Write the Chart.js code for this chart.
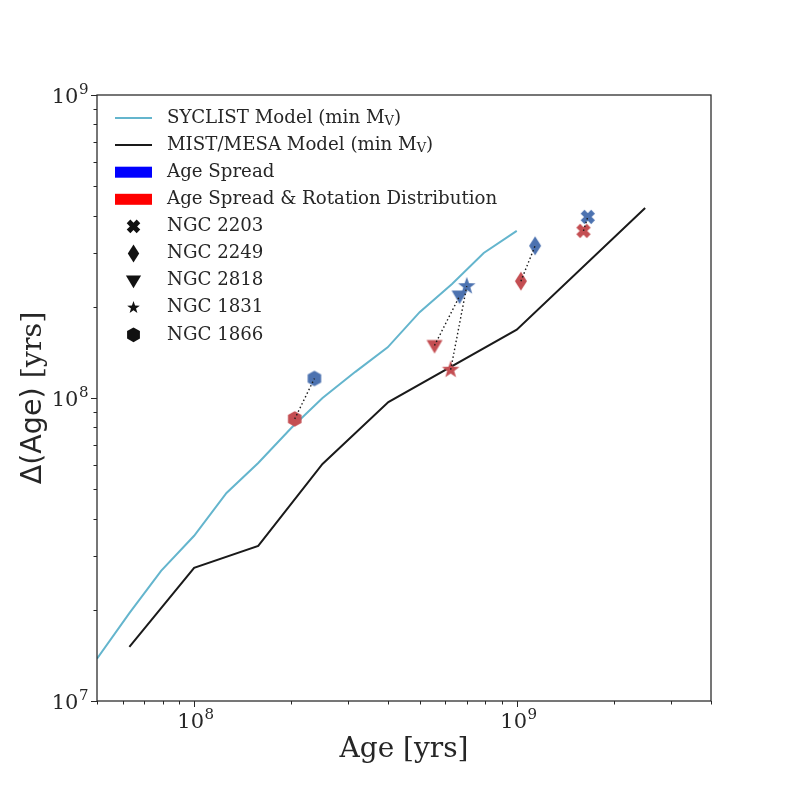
<!DOCTYPE html>
<html>
<head>
<meta charset="utf-8">
<script src="https://cdn.jsdelivr.net/npm/chart.js@4"></script>
<style>
  html, body { margin: 0; background: #fff; }
  #wrap { width: 789px; height: 789px; }
</style>
</head>
<body>
<div id="wrap"><canvas id="chart" width="789" height="789"></canvas></div>
<script>
// model curves
const sycAge = [5.0e7, 6.3e7, 7.9e7, 1.0e8, 1.26e8, 1.58e8, 2.0e8, 2.5e8, 3.16e8, 3.98e8, 5.0e8, 6.3e8, 7.9e8, 1.0e9];
const sycSpread = [1.38e7, 1.95e7, 2.69e7, 3.51e7, 4.86e7, 6.10e7, 7.96e7, 1.0e8, 1.22e8, 1.47e8, 1.92e8, 2.38e8, 3.01e8, 3.56e8];
const mistAge = [6.3e7, 1.0e8, 1.58e8, 2.5e8, 4.0e8, 1.0e9, 2.5e9];
const mistSpread = [1.51e7, 2.75e7, 3.25e7, 6.06e7, 9.7e7, 1.68e8, 4.24e8];

// clusters
const clusters = ['NGC 2203', 'NGC 2249', 'NGC 2818', 'NGC 1831', 'NGC 1866'];
const shapes = ['x', 'd', 'v', '*', 'h'];
const blueAge = [1.66e9, 1.14e9, 6.65e8, 7.0e8, 2.36e8];
const blueSpread = [3.96e8, 3.18e8, 2.17e8, 2.34e8, 1.16e8];
const redAge = [1.61e9, 1.03e9, 5.56e8, 6.24e8, 2.05e8];
const redSpread = [3.56e8, 2.43e8, 1.49e8, 1.24e8, 8.53e7];

// ticks
const xTicks = [5e7, 6e7, 7e7, 8e7, 9e7, 1e8, 2e8, 3e8, 4e8, 5e8, 6e8, 7e8, 8e8, 9e8, 1e9, 2e9, 3e9, 4e9];
const yTicks = [1e7, 2e7, 3e7, 4e7, 5e7, 6e7, 7e7, 8e7, 9e7, 1e8, 2e8, 3e8, 4e8, 5e8, 6e8, 7e8, 8e8, 9e8, 1e9];

const BLUE = '#4c72b0';
const RED = '#c44e52';
const CYAN = '#64b5cd';
const INK = '#262626';
const SERIF = "'DejaVu Serif', serif";
const SANS = "'DejaVu Sans', sans-serif";

function isDecade(v) {
  const e = Math.log10(v);
  return Math.abs(e - Math.round(e)) < 1e-9;
}

function markerPath(ctx, shape, k) {
  let pts = [];
  if (shape === 'x') {
    const a = 7.4 * k, w = 2.7 * k;
    const plus = [[-w,-a],[w,-a],[w,-w],[a,-w],[a,w],[w,w],[w,a],[-w,a],[-w,w],[-a,w],[-a,-w],[-w,-w]];
    const c = Math.SQRT1_2;
    pts = plus.map(p => [(p[0] - p[1]) * c, (p[0] + p[1]) * c]);
  } else if (shape === 'd') {
    pts = [[0,-9.5*k],[6*k,0],[0,9.5*k],[-6*k,0]];
  } else if (shape === 'v') {
    pts = [[-8*k,-5.5*k],[8*k,-5.5*k],[0,8*k]];
  } else if (shape === '*') {
    for (let i = 0; i < 10; i++) {
      const r = (i % 2 === 0 ? 9.2 : 3.7) * k;
      const ang = -Math.PI / 2 + i * Math.PI / 5;
      pts.push([r * Math.cos(ang), r * Math.sin(ang)]);
    }
  } else if (shape === 'h') {
    for (let i = 0; i < 6; i++) {
      const ang = -Math.PI / 2 + i * Math.PI / 3;
      pts.push([7.8 * k * Math.cos(ang), 7.8 * k * Math.sin(ang)]);
    }
  }
  ctx.beginPath();
  pts.forEach((p, i) => i ? ctx.lineTo(p[0], p[1]) : ctx.moveTo(p[0], p[1]));
  ctx.closePath();
}

function makeMarker(shape, color, k) {
  const c = document.createElement('canvas');
  c.width = 26; c.height = 26;
  const ctx = c.getContext('2d');
  ctx.translate(13, 13);
  ctx.fillStyle = color;
  markerPath(ctx, shape, k);
  ctx.fill();
  return c;
}

const blueMarks = shapes.map(s => makeMarker(s, BLUE, 1));
const redMarks = shapes.map(s => makeMarker(s, RED, 1));

function pts(xs, ys) {
  return xs.map((x, i) => ({ x: x, y: ys[i] }));
}

// dotted connectors first so they sit on top
const datasets = [];
clusters.forEach((name, i) => {
  datasets.push({
    type: 'line',
    label: name + ' link',
    data: [{ x: redAge[i], y: redSpread[i] }, { x: blueAge[i], y: blueSpread[i] }],
    borderColor: '#1a1a1a',
    borderWidth: 1.4,
    borderDash: [1.5, 2.5],
    pointRadius: 0,
    fill: false
  });
});
datasets.push({
  type: 'scatter',
  label: 'Age Spread',
  data: pts(blueAge, blueSpread),
  pointStyle: ctx => blueMarks[ctx.dataIndex],
  pointRadius: 9
});
datasets.push({
  type: 'scatter',
  label: 'Age Spread & Rotation Distribution',
  data: pts(redAge, redSpread),
  pointStyle: ctx => redMarks[ctx.dataIndex],
  pointRadius: 9
});
datasets.push({
  type: 'line',
  label: 'SYCLIST Model',
  data: pts(sycAge, sycSpread),
  borderColor: CYAN,
  borderWidth: 2,
  pointRadius: 0,
  tension: 0,
  fill: false
});
datasets.push({
  type: 'line',
  label: 'MIST/MESA Model',
  data: pts(mistAge, mistSpread),
  borderColor: '#1a1a1a',
  borderWidth: 2,
  pointRadius: 0,
  tension: 0,
  fill: false
});

// "10" with a raised exponent, anchored by alignment
function drawPow(ctx, v, x, y, align) {
  const e = String(Math.round(Math.log10(v)));
  ctx.font = '21px ' + SERIF;
  const wb = ctx.measureText('10').width;
  ctx.font = '15px ' + SERIF;
  const we = ctx.measureText(e).width;
  let x0 = align === 'center' ? x - (wb + we) / 2 : x - (wb + we);
  ctx.textAlign = 'left';
  ctx.textBaseline = 'alphabetic';
  ctx.font = '21px ' + SERIF;
  ctx.fillText('10', x0, y);
  ctx.font = '15px ' + SERIF;
  ctx.fillText(e, x0 + wb + 0.5, y - 9);
}

const framePlugin = {
  id: 'frame',
  afterDraw(chart) {
    const ctx = chart.ctx;
    const a = chart.chartArea;
    const xs = chart.scales.x, ys = chart.scales.y;
    ctx.save();
    ctx.strokeStyle = INK;
    ctx.lineWidth = 1.25;
    ctx.strokeRect(a.left, a.top, a.right - a.left, a.bottom - a.top);

    ctx.lineWidth = 1;
    ctx.fillStyle = INK;
    xTicks.forEach(v => {
      const px = Math.round(xs.getPixelForValue(v)) + 0.5;
      const len = isDecade(v) ? 6 : 3.5;
      ctx.beginPath(); ctx.moveTo(px, a.bottom); ctx.lineTo(px, a.bottom + len); ctx.stroke();
      if (isDecade(v)) drawPow(ctx, v, px + 1, a.bottom + 27, 'center');
    });
    yTicks.forEach(v => {
      const py = Math.round(ys.getPixelForValue(v)) + 0.5;
      const len = isDecade(v) ? 6 : 3.5;
      ctx.beginPath(); ctx.moveTo(a.left, py); ctx.lineTo(a.left - len, py); ctx.stroke();
      if (isDecade(v)) drawPow(ctx, v, a.left - 9, py + 7, 'right');
    });

    // axis titles
    ctx.fillStyle = INK;
    ctx.textBaseline = 'alphabetic';
    ctx.textAlign = 'center';
    ctx.font = '28px ' + SERIF;
    ctx.fillText('Age [yrs]', (a.left + a.right) / 2, 757);

    ctx.save();
    ctx.translate(41, (a.top + a.bottom) / 2);
    ctx.rotate(-Math.PI / 2);
    ctx.textAlign = 'left';
    ctx.font = '28.5px ' + SANS;
    const p1 = '\u0394(Age)';
    const w1 = ctx.measureText(p1).width;
    ctx.font = '28.5px ' + SERIF;
    const p2 = ' [yrs]';
    const w2 = ctx.measureText(p2).width;
    const x0 = -(w1 + w2) / 2;
    ctx.font = '28.5px ' + SANS;
    ctx.fillText(p1, x0, 0);
    ctx.font = '28.5px ' + SERIF;
    ctx.fillText(p2, x0 + w1, 0);
    ctx.restore();

    // legend
    const hx0 = 115, hx1 = 152, tx = 167, y0 = 118, step = 27.1;
    const LF = '18.2px ' + SERIF;
    ctx.textAlign = 'left';
    ctx.textBaseline = 'middle';
    const drawSubLabel = (y, pre) => {
      ctx.font = LF;
      ctx.fillText(pre, tx, y);
      let x = tx + ctx.measureText(pre).width;
      ctx.font = '13px ' + SERIF;
      ctx.fillText('V', x, y + 4);
      x += ctx.measureText('V').width;
      ctx.font = LF;
      ctx.fillText(')', x, y);
    };
    ctx.lineWidth = 2;
    ctx.strokeStyle = CYAN;
    ctx.beginPath(); ctx.moveTo(hx0, y0); ctx.lineTo(hx1, y0); ctx.stroke();
    drawSubLabel(y0, 'SYCLIST Model (min M');
    ctx.strokeStyle = '#1a1a1a';
    ctx.beginPath(); ctx.moveTo(hx0, y0 + step); ctx.lineTo(hx1, y0 + step); ctx.stroke();
    drawSubLabel(y0 + step, 'MIST/MESA Model (min M');
    ctx.fillStyle = '#0000ff';
    ctx.fillRect(hx0, y0 + 2 * step - 5.5, hx1 - hx0, 11);
    ctx.fillStyle = '#ff0000';
    ctx.fillRect(hx0, y0 + 3 * step - 5.5, hx1 - hx0, 11);
    ctx.fillStyle = INK;
    ctx.font = LF;
    ctx.fillText('Age Spread', tx, y0 + 2 * step);
    ctx.fillText('Age Spread & Rotation Distribution', tx, y0 + 3 * step);
    clusters.forEach((name, i) => {
      const y = y0 + (4 + i) * step;
      ctx.save();
      ctx.translate((hx0 + hx1) / 2, y);
      ctx.fillStyle = '#111';
      markerPath(ctx, shapes[i], shapes[i] === '*' ? 0.72 : 0.95);
      ctx.fill();
      ctx.restore();
      ctx.fillStyle = INK;
      ctx.font = LF;
      ctx.fillText(name, tx, y);
    });
    ctx.restore();
  }
};

new Chart(document.getElementById('chart'), {
  type: 'scatter',
  data: { datasets: datasets },
  options: {
    responsive: false,
    animation: false,
    layout: { padding: { top: 95, right: 78, left: 0, bottom: 0 } },
    plugins: { legend: { display: false }, tooltip: { enabled: false } },
    scales: {
      x: {
        type: 'logarithmic',
        min: 5e7,
        max: 4e9,
        grid: { display: false },
        border: { display: false },
        afterBuildTicks: s => { s.ticks = xTicks.map(v => ({ value: v })); },
        afterFit: s => { s.height = 88; },
        ticks: { autoSkip: false, maxRotation: 0, callback: () => '' }
      },
      y: {
        type: 'logarithmic',
        min: 1e7,
        max: 1e9,
        grid: { display: false },
        border: { display: false },
        afterBuildTicks: s => { s.ticks = yTicks.map(v => ({ value: v })); },
        afterFit: s => { s.width = 97; },
        ticks: { autoSkip: false, callback: () => '' }
      }
    }
  },
  plugins: [framePlugin]
});
</script>
</body>
</html>
